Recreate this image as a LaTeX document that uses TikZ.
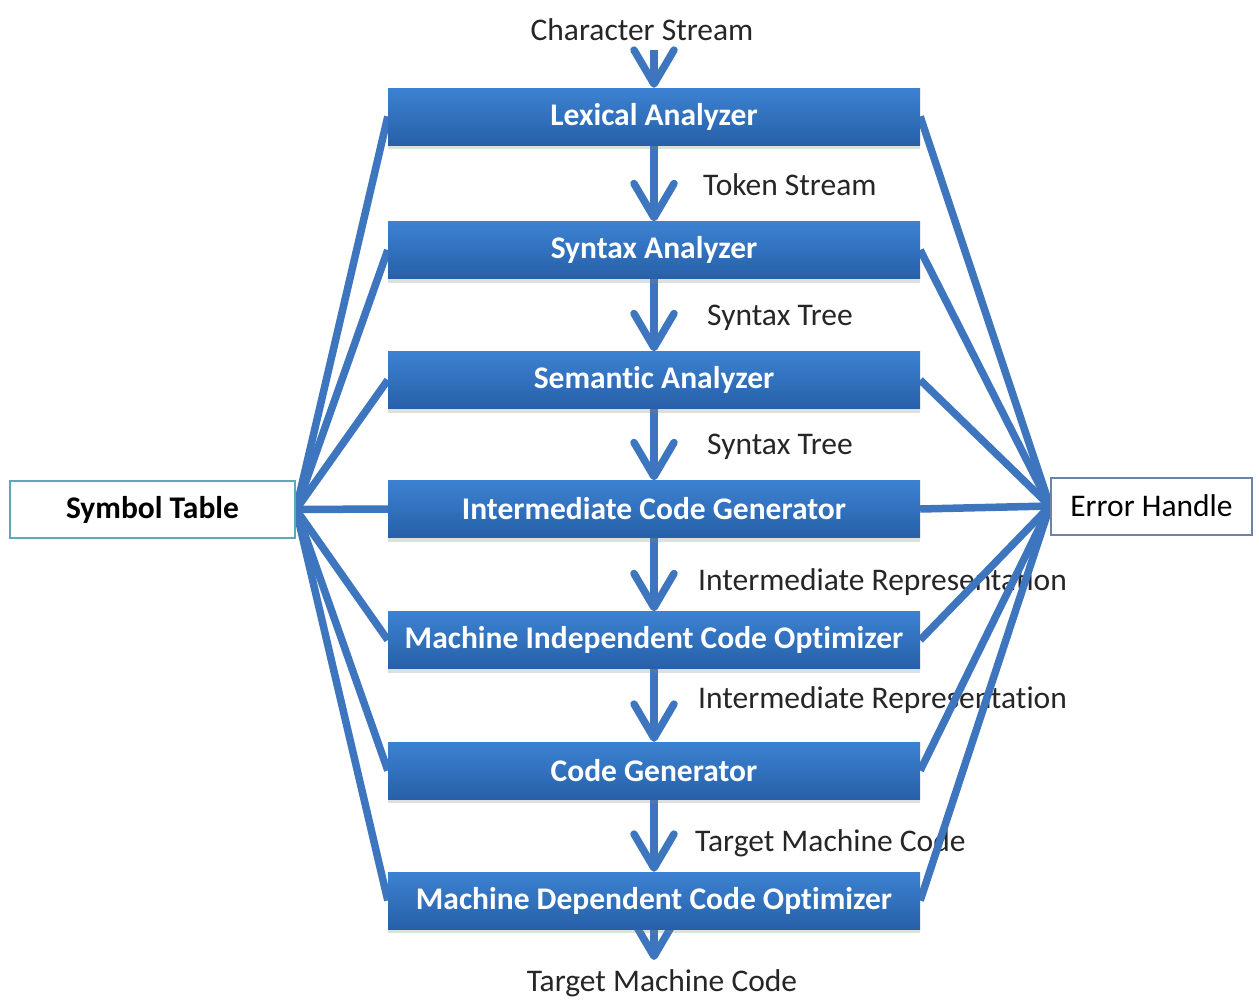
\documentclass[tikz,border=0pt]{standalone}
\usepackage{fontspec}
\setmainfont{Carlito}[Ligatures=NoCommon]
\usetikzlibrary{arrows.meta,shadows}
\definecolor{linkblue}{HTML}{3D76BE}
\definecolor{boxtop}{HTML}{3C82D2}
\definecolor{boxbot}{HTML}{2760A8}
\definecolor{tabframe}{HTML}{5FA8B8}
\definecolor{errframe}{HTML}{6A84A8}
\pgfdeclarelayer{bg}
\pgfsetlayers{bg,main}
\tikzset{
  phase/.style={minimum width=532pt, minimum height=57pt, inner sep=0pt,
    top color=boxtop, bottom color=boxbot, draw=none,
    font=\fontsize{31.5}{33}\selectfont\bfseries, text=white,
    drop shadow={opacity=0.25, shadow xshift=0pt, shadow yshift=-4pt}},
  tag/.style={font=\fontsize{31.5}{33}\selectfont, text=black!85, inner sep=0pt},
  sidebox/.style={minimum height=57pt, inner sep=0pt, fill=white, line width=2pt},
  link/.style={draw=linkblue, line width=7.5pt},
  flow/.style={draw=linkblue, line width=8pt,
    -{Straight Barb[length=34pt, width=40pt, line width=7.5pt, round]}}
}
\begin{document}
\begin{tikzpicture}[x=1pt, y=-1pt]
\useasboundingbox (0,0) rectangle (1259,1001);

% compiler phases
\node[phase] (lex)  at (654,116.5) {Lexical Analyzer};
\node[phase] (syn)  at (654,250)   {Syntax Analyzer};
\node[phase] (sem)  at (654,380)   {Semantic Analyzer};
\node[phase] (icg)  at (654,509)   {Intermediate Code Generator};
\node[phase] (mico) at (654,640)   {Machine Independent Code Optimizer};
\node[phase] (cg)   at (654,770.5) {Code Generator};
\node[phase] (mdco) at (654,900.5) {Machine Dependent Code Optimizer};

% shared components
\node[sidebox, draw=tabframe, minimum width=285pt, font=\fontsize{31.5}{33}\selectfont\bfseries]
  (tab) at (152.5,509.5) {Symbol Table};
\node[sidebox, draw=errframe, minimum width=201pt, font=\fontsize{31.5}{33}\selectfont]
  (err) at (1151.5,506) {Error Handle};

\begin{pgfonlayer}{bg}
  \fill[white] (0,0) rectangle (1259,1001);
  % stream labels
  \node[tag] (cs)  at (642,30)  {Character Stream};
  \node[tag, anchor=west] (l1) at (703,185) {Token Stream};
  \node[tag, anchor=west] (l2) at (707,318) {Syntax Tree};
  \node[tag, anchor=west] (l3) at (707,447) {Syntax Tree};
  \node[tag, anchor=west] (l4) at (698,582) {Intermediate Representation};
  \node[tag, anchor=west] (l5) at (698,700) {Intermediate Representation};
  \node[tag, anchor=west] (l6) at (695,843) {Target Machine Code};
  \node[tag] (tmc) at (662,983) {Target Machine Code};
  \coordinate (top) at (654,50);
  \coordinate (out) at (654,960);

  % flow between phases
  \draw[flow] (top) -- (lex.north);
  \draw[flow] (lex.south) -- (syn.north);
  \draw[flow] (syn.south) -- (sem.north);
  \draw[flow] (sem.south) -- (icg.north);
  \draw[flow] (icg.south) -- (mico.north);
  \draw[flow] (mico.south) -- (cg.north);
  \draw[flow] (cg.south) -- (mdco.north);
  \draw[flow] (mdco.center) -- (out);

  % every phase talks to the symbol table and the error handler
  \foreach \p in {lex,syn,sem,icg,mico,cg,mdco} {
    \draw[link] (\p.west) -- (tab.east);
    \draw[link] (\p.east) -- (err.west);
  }
\end{pgfonlayer}
\end{tikzpicture}
\end{document}
